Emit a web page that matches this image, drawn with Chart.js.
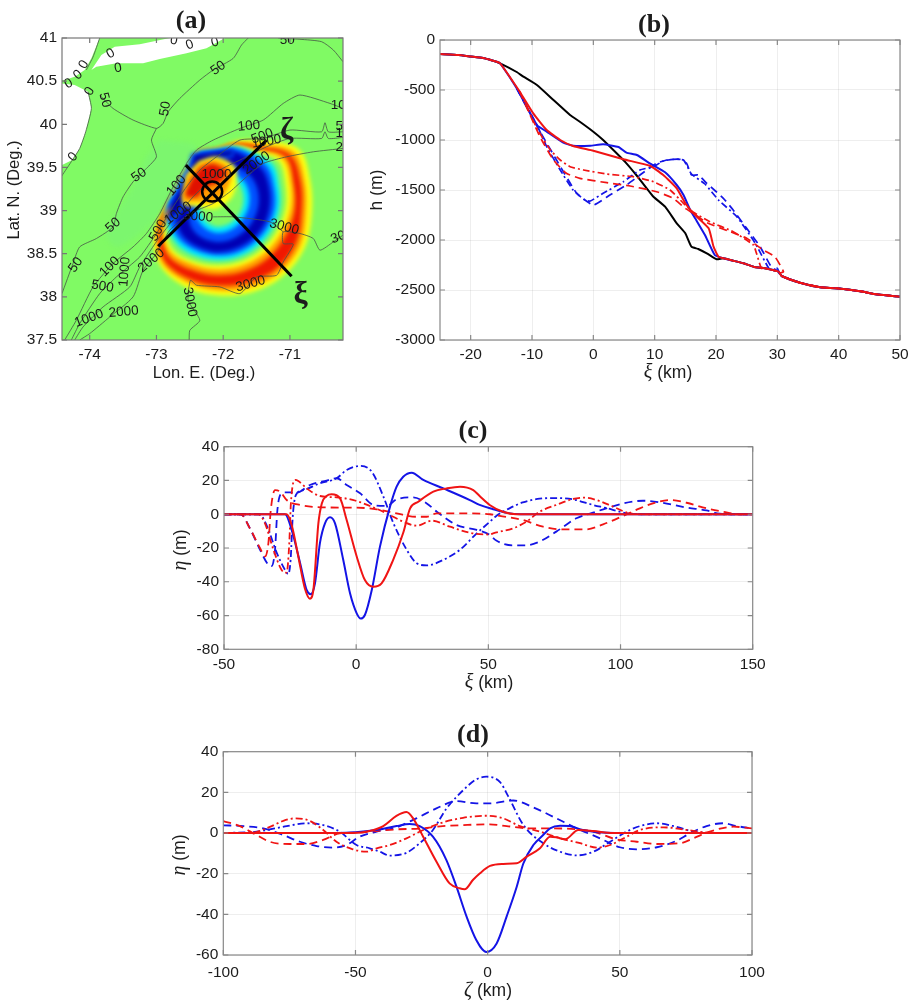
<!DOCTYPE html>
<html lang="en">
<head>
  <meta charset="UTF-8">
  <title>Tsunami wave elevation panels</title>
  <script src="https://cdn.jsdelivr.net/npm/chart.js"></script>
  <style>
    body { margin: 0; background: white; }
    .panel { position: absolute; }
    .panel canvas { filter: blur(0.45px); }
  </style>
</head>
<body>
  <div class="panel" style="left:0;top:0;width:370px;height:390px"><canvas id="chartA"></canvas></div>
  <div class="panel" style="left:370px;top:0;width:549px;height:390px"><canvas id="chartB"></canvas></div>
  <div class="panel" style="left:170px;top:410px;width:630px;height:290px"><canvas id="chartC"></canvas></div>
  <div class="panel" style="left:170px;top:720px;width:630px;height:281px"><canvas id="chartD"></canvas></div>

  <script>
    // ---- panel (a): map ticks
    const lonTicks = [-74, -73, -72, -71];
    const latTicks = [37.5, 38, 38.5, 39, 39.5, 40, 40.5, 41];

    // land, lon/lat
    const landNorth = [[-74.42,41],[-73.85,41],[-73.975,40.764],[-74.075,40.629],[-74.225,40.551],[-74.375,40.513],[-74.42,40.513]];
    const landJersey = [[-74.42,40.474],[-74.225,40.455],[-74.025,40.377],[-73.975,40.184],[-74.06,39.913],[-74.15,39.72],[-74.26,39.585],[-74.42,39.527]];
    const landIsland = [[-73.975,40.629],[-73.825,40.803],[-73.625,40.9],[-73.25,40.927],[-72.8,41],[-71.975,41],[-72.25,40.88],[-72.55,40.822],[-72.95,40.756],[-73.2,40.706],[-73.6,40.706],[-73.9,40.667]];

    // isobaths, lon/lat
    const contour0a = [[-73.85,41],[-73.95,40.78],[-74.05,40.63]];
    const contour0b = [[-74.025,40.377],[-73.975,40.184],[-74.06,39.913],[-74.15,39.72],[-74.26,39.585],[-74.42,39.4]];
    const contour50a = [[-73.85,40.339],[-73.65,40.184],[-73.35,40.049],[-73,39.952],[-72.9,40.01],[-72.825,40.145],[-72.65,40.3],[-72.35,40.513],[-72.15,40.629],[-71.85,40.764],[-71.725,40.919],[-71.625,41]];
    const contour50b = [[-73,39.952],[-73.075,39.817],[-73,39.623],[-73.15,39.488],[-73.35,39.333],[-73.5,39.159],[-73.6,38.966],[-73.65,38.811],[-73.9,38.676],[-74.15,38.579],[-74.25,38.386],[-74.415,38.038]];
    const contour50c = [[-71.175,41],[-70.85,40.985],[-70.525,40.957],[-70.35,40.861],[-70.205,40.725]];
    const contour100 = [[-70.205,40.184],[-70.4,40.242],[-70.85,40.339],[-71.1,40.242],[-71.4,40.049],[-71.75,39.952],[-72.15,39.817],[-72.4,39.701],[-72.55,39.546],[-72.75,39.275],[-72.95,38.966],[-73.15,38.734],[-73.35,38.579],[-73.65,38.386],[-73.95,38.115],[-74.2,37.729],[-74.375,37.5]];
    const contour500 = [[-70.205,39.913],[-70.425,39.913],[-70.475,40.018],[-70.525,39.913],[-71,39.933],[-71.4,39.836],[-71.75,39.817],[-72.1,39.623],[-72.35,39.469],[-72.55,39.275],[-72.75,39.043],[-73,38.734],[-73.25,38.463],[-73.6,38.231],[-73.85,38.038],[-74.15,37.69],[-74.275,37.5]];
    const contour1000 = [[-70.205,39.848],[-70.425,39.836],[-70.475,39.913],[-70.525,39.836],[-71,39.836],[-71.35,39.739],[-71.75,39.585],[-72.05,39.469],[-72.25,39.314],[-72.45,39.159],[-72.75,38.889],[-72.95,38.695],[-73.25,38.347],[-73.4,38.115],[-73.8,37.883],[-74.1,37.651],[-74.225,37.5]];
    const contour2000 = [[-70.205,39.72],[-70.65,39.681],[-71.05,39.623],[-71.4,39.546],[-71.65,39.391],[-71.9,39.217],[-72.15,39.082],[-72.5,38.966],[-72.8,38.773],[-73,38.502],[-73.2,38.309],[-73.35,38],[-73.7,37.767],[-74,37.574],[-74.15,37.5]];
    const contour3000a = [[-70.205,38.715],[-70.35,38.637],[-70.55,38.541],[-70.65,38.676],[-70.85,38.734],[-71.1,38.753],[-71.1,38.618],[-70.95,38.61],[-71.1,38.405],[-71.2,38.25],[-71.5,38.231],[-71.75,38.038],[-72.05,38.115],[-72.4,38.135],[-72.49,38.193],[-72.525,37.96],[-72.35,37.729],[-72.5,37.612],[-72.51,37.5]];
    const contour3000b = [[-71.1,38.753],[-71.3,38.869],[-71.85,38.927],[-72.15,38.927]];

    // contour labels: text, lon, lat, rotation (deg)
    const contourLabels = [
      ['0',-72.74,40.97,10],['0',-72.5,40.92,-20],['0',-72.125,40.95,-15],['0',-73.685,40.82,-30],['0',-73.575,40.65,-10],
      ['0',-74.085,40.69,-60],['0',-74.175,40.57,-40],['0',-74.315,40.47,-30],['0',-74,40.38,-60],['0',-74.25,39.62,-50],
      ['50',-71.04,40.97,0],['50',-72.075,40.65,-35],['50',-73.775,40.28,75],['50',-72.865,40.18,-80],['50',-73.26,39.41,-35],['50',-73.65,38.83,-40],['50',-74.21,38.37,-55],
      ['100',-71.615,39.98,-5],['100',-72.7,39.29,-50],['100',-73.7,38.35,-45],['10',-70.275,40.22,0],
      ['500',-71.415,39.86,-20],['500',-72.975,38.77,-60],['500',-73.81,38.12,10],
      ['1000',-71.35,39.8,-10],['1000',-72.675,38.97,-35],['1000',-73.475,38.29,-85],['1000',-74.01,37.75,-20],['1000',-72.1,39.42,0],
      ['2000',-71.5,39.55,-35],['2000',-73.075,38.42,-40],['2000',-73.49,37.825,-5],
      ['3000',-72.375,38.93,5],['3000',-71.085,38.81,15],['3000',-71.59,38.15,-15],['3000',-72.5,37.94,80],
      ['30',-70.275,38.69,-20],['5',-70.26,39.98,0],['1',-70.26,39.895,0],['2',-70.26,39.73,0]
    ];

    // section lines and source circle
    const lineXi = [[-72.56,39.527],[-70.975,38.239]];
    const lineZeta = [[-72.975,38.587],[-71.35,39.817]];
    const sourcePoint = [[-72.165,39.22]];
    const sectionMarks = [['\u03b6',-71.05,39.93],['\u03be',-70.84,38.02]];

    // wave field: ring outlines, bearings from the source in degrees, radius in 0.005 deg lon
    const ringCentre = [-72.1, 39.159];
    const ringBearings = [0,20,40,60,80,100,120,140,160,180,200,220,240,260,280,300,320,340];
    const ringYellowOut = [142,178,220,285,285,290,305,310,305,295,285,265,215,150,120,118,118,146];
    const ringOrangeOut = [142,172,205,268,268,272,290,295,288,280,270,255,207,150,120,118,118,146];
    const ringRedOut = [142,168,195,252,255,258,275,280,272,265,258,245,198,150,120,118,118,146];
    const ringRedIn = [142,165,188,240,235,238,238,240,238,235,232,228,190,150,120,118,118,146];
    const ringOrangeIn = [142,163,182,228,225,225,222,222,220,218,215,215,184,150,120,118,118,146];
    const ringYellowIn = [142,161,176,215,210,210,208,208,207,205,205,205,178,150,120,118,118,146];
    const ringCyanOut = [142,160,172,195,190,192,192,192,192,190,188,185,170,150,120,118,118,146];
    const ringBlueOut = [138,155,165,178,175,178,178,178,178,175,172,170,160,140,115,115,115,142];
    const ringDarkOut = [128,145,150,160,160,162,165,165,165,165,160,155,140,120,100,100,105,130];
    const ringDarkIn = [90,100,110,120,125,128,130,133,135,135,130,118,95,70,60,60,70,80];
    const ringBlueIn = [70,75,85,95,98,100,102,105,108,108,100,88,70,50,40,45,50,60];
    const ringCyanIn = [50,58,68,78,80,82,85,88,90,90,82,70,55,40,30,30,35,40];

    // steep slope patches north-west of the source, lon/lat
    const patchHaze = [[-72.95,39.817],[-72.4,39.74],[-72.55,39.43],[-72.85,39.04],[-73.25,38.734],[-73.6,38.58],[-73.75,38.734],[-73.35,39.275],[-73.15,39.623]];
    const patchBlue = [[-72.475,39.662],[-71.85,39.72],[-71.85,39.623],[-72.25,39.55],[-72.35,39.43],[-72.475,39.198],[-72.675,38.927],[-72.875,38.869],[-72.825,39.063],[-72.675,39.275],[-72.525,39.507]];
    const patchDark = [[-72.425,39.643],[-72.15,39.67],[-71.85,39.693],[-71.875,39.643],[-72.25,39.577],[-72.4,39.469],[-72.5,39.237],[-72.7,38.966],[-72.825,38.908],[-72.79,39.043],[-72.65,39.237],[-72.475,39.488]];
    const patchYellow = [[-72.35,39.577],[-72.1,39.623],[-71.81,39.488],[-71.85,39.179],[-72.1,39.024],[-72.4,39.043],[-72.6,39.082],[-72.56,39.411]];
    const patchOrange = [[-72.36,39.546],[-72.125,39.585],[-71.875,39.469],[-71.95,39.237],[-72.15,39.102],[-72.4,39.102],[-72.6,39.121],[-72.525,39.391]];
    const patchRed = [[-72.35,39.488],[-72.15,39.538],[-71.95,39.449],[-72.05,39.333],[-72.25,39.275],[-72.4,39.159],[-72.56,39.179],[-72.475,39.353]];
    const patchStreak = [[-72.775,39.082],[-72.85,38.889],[-72.96,38.715],[-73,38.715],[-72.91,38.927]];

    // ---- panel (b): depth profiles, xi (km) vs h (m)
    const bXTicks = [-20,-10,0,10,20,30,40,50];
    const bYTicks = [0,-500,-1000,-1500,-2000,-2500,-3000];
    const hHead = [[-25,-140],[-22,-150],[-20,-165],[-18,-180],[-16.5,-205],[-15.2,-233]];
    const hTail = [[21.2,-2183],[22.8,-2207],[24.5,-2233],[26.1,-2267],[28.3,-2287],[30.2,-2317]];
    const hDeep = [[30.7,-2360],[33.7,-2427],[37,-2473],[39.7,-2483],[44,-2517],[45.7,-2540],[50,-2567]];
    const hBlack = [[-12.5,-320],[-11.4,-367],[-9.2,-450],[-6.5,-600],[-3.8,-750],[-2.2,-817],[0,-917],[1.6,-1000],[3.8,-1133],[5.4,-1233],[7,-1350],[8.7,-1483],[9.8,-1567],[11.7,-1667],[13.6,-1833],[15,-1933],[16,-2067],[17.1,-2090],[18.5,-2133],[20.1,-2193]];
    const hBlueSolid = [[-12.5,-483],[-9.2,-850],[-7.6,-917],[-4.9,-1027],[-3.3,-1057],[-0.5,-1057],[1.6,-1043],[4.1,-1070],[5.4,-1127],[7.1,-1150],[9.2,-1233],[11.7,-1323],[13.6,-1450],[14.7,-1550],[15.8,-1700],[16.6,-1783],[18.2,-1950],[19.8,-2150]];
    const hRedSolid = [[-12,-517],[-9.8,-733],[-7.6,-900],[-5.4,-1000],[-3.3,-1060],[0,-1107],[4.9,-1193],[9.2,-1257],[11.4,-1350],[13.6,-1483],[15,-1633],[16.3,-1733],[18.8,-1883],[19.6,-2067],[20.4,-2167]];
    const hBlueDashDot = [[-12.5,-483],[-9.2,-850],[-7.6,-1067],[-5.4,-1300],[-3.3,-1500],[-1.4,-1600],[-0.5,-1610],[1.6,-1533],[4.9,-1417],[7.6,-1300],[9.8,-1267],[11.4,-1210],[13,-1193],[14.7,-1200],[16,-1340],[18.2,-1440],[20.4,-1600],[23.4,-1767],[26.4,-2033],[28.8,-2300],[30,-2283],[30.4,-2350]];
    const hBlueDash = [[-12.5,-483],[-9.2,-860],[-6,-1200],[-2.7,-1533],[0,-1650],[2.7,-1550],[5.4,-1450],[7.6,-1350],[10.3,-1233],[12,-1200],[14.1,-1193],[15.2,-1233],[16,-1350],[17.1,-1350],[18.5,-1433],[21.2,-1583],[22.8,-1700],[25,-1883],[27.2,-2067],[29,-2267],[30.2,-2317]];
    const hRedDashDot = [[-12,-517],[-9.2,-883],[-7,-1100],[-5.4,-1200],[-3.8,-1267],[-1.6,-1300],[2.2,-1340],[6.5,-1367],[9.8,-1417],[12.5,-1500],[14.7,-1633],[16.3,-1723],[19,-1817],[22.8,-1917],[26.1,-2050],[26.6,-2133],[27.4,-2283],[28.3,-2287],[30.2,-2317]];
    const hRedDash = [[-12,-517],[-8.7,-967],[-6.5,-1200],[-4.4,-1333],[-2.2,-1383],[2.2,-1427],[6,-1460],[10.3,-1517],[13,-1583],[15,-1683],[16.3,-1733],[18.5,-1827],[22.3,-1917],[25,-1983],[27.7,-2100],[29.6,-2167],[31,-2317],[30.4,-2330]];

    // ---- panel (c): eta (m) along xi (km)
    const cXTicks = [-50,0,50,100,150];
    const cYTicks = [40,20,0,-20,-40,-60,-80];
    const cBlueSolid = [[-50,0],[-26.9,0],[-24.4,-9.3],[-21.2,-29],[-18.7,-45],[-17.2,-47.4],[-15.6,-41],[-13.7,-17],[-11.8,-5.4],[-9.9,-1.8],[-8,-5.4],[-4.9,-27],[-2.3,-47],[0.2,-58.7],[1.7,-61.8],[3.3,-59.7],[5.9,-44.9],[9,-19.2],[12.8,4.5],[15.3,16.3],[17.8,22.2],[21,24.6],[25.4,20.3],[33,15.3],[43,8.4],[46.7,5.5],[51.8,3],[57,0.8],[62,0],[150,0]];
    const cRedSolid = [[-50,0],[-26.3,0],[-24.4,-6.4],[-21.9,-25],[-19.4,-44],[-17.5,-50],[-16.2,-45],[-14.3,-5.4],[-13,6.4],[-11.2,10.8],[-9.3,11.8],[-6.1,9.4],[-3.6,-3.4],[0.2,-25],[3.3,-39],[6.5,-43],[9.6,-41],[14,-27],[17.8,-11],[20.4,3.5],[23.5,7.4],[29.2,13.4],[34.2,15.3],[39.3,16.3],[44.3,14.3],[46.7,10.8],[50.5,5.5],[55.5,1.5],[60.6,0],[150,0]];
    const cBlueDashDot = [[-50,0],[-36.6,0],[-33.9,-6.4],[-30,-23],[-26.9,-33],[-25.7,-35.4],[-24.8,-27],[-24,-1.5],[-22.8,11.4],[-20,14.3],[-13.7,18.3],[-7.4,21.3],[-3.6,26.2],[1.5,28.6],[5.9,25.2],[10.3,10.4],[14.1,-5.4],[19.1,-21],[22.9,-29],[26.7,-30.3],[33,-27],[39.3,-21],[45.6,-11.3],[50.6,-4.4],[53,-1],[58,3.5],[63,7],[69.4,9.2],[75.7,9.6],[82,8.8],[89.6,5.5],[95,3.5],[101,1],[106,0],[150,0]];
    const cBlueDash = [[-50,0],[-43.7,0],[-40.2,-8.4],[-36.4,-21],[-33.2,-30],[-32,-30.7],[-30.7,-21],[-29.8,2.5],[-28.2,12.4],[-26.9,13],[-22.5,12.8],[-17.5,17.3],[-11.2,19.9],[-7.4,21.3],[-3.6,17.3],[1.5,12.4],[6.5,5.5],[11.5,4.9],[15.3,8.8],[21.6,10],[26.7,6.4],[30.5,1.5],[38,-6.4],[45.6,-9.3],[50.6,-12.3],[53,-15.6],[59.3,-18.4],[64.4,-18.4],[69.4,-16.2],[75.7,-10.3],[83.3,-2.4],[89.6,0.9],[94.6,3.5],[101,6.4],[108.5,8],[116,6.8],[125,3.9],[132.5,2.3],[137.5,0.3],[145,0],[150,0]];
    const cRedDashDot = [[-50,0],[-37,0],[-34.5,-5.4],[-31.3,-21],[-28.2,-33],[-26.3,-34.6],[-25.3,-17],[-24.7,6.4],[-23.1,20.3],[-21.9,19.7],[-18.7,15.3],[-13.7,10.8],[-7.4,10],[-1,8.4],[5.2,4.9],[11.5,0.5],[17.8,-4.4],[22.9,-6.8],[28.6,-3.8],[35.5,-7.4],[43,-11],[50.6,-12],[51.8,-11.3],[59.3,-8.4],[64.4,-4.4],[69.4,1.5],[75.7,5.5],[82,9],[86.4,9.8],[90.9,8.4],[97.2,4.5],[103.5,0.5],[108.5,0],[150,0]];
    const cRedDash = [[-50,0],[-43.7,0],[-40.2,-8.4],[-36.4,-20],[-34.5,-25],[-33.2,-17],[-32.3,2.5],[-30.7,14.3],[-28.8,13.4],[-26.3,8.4],[-21.2,5.5],[-11.2,4],[0.2,3.9],[7.8,2.9],[15.3,0.5],[22.9,-1.5],[26.7,-1.5],[30.5,0.5],[43,0.5],[50.6,0],[54.3,-1],[63,-3.4],[70.7,-7.4],[78.2,-9],[87,-9],[93.4,-6],[101,-1],[107.3,3.5],[112.3,6.4],[118.6,8.4],[125,6.8],[132.5,3.5],[138.8,1.5],[145,0],[150,0]];

    // ---- panel (d): eta (m) along zeta (km)
    const dXTicks = [-100,-50,0,50,100];
    const dYTicks = [40,20,0,-20,-40,-60];
    const dBlueSolid = [[-100,0],[-57,0],[-42,1.5],[-34.5,3.4],[-29.5,4.4],[-25.7,3.4],[-20.7,-1.8],[-15.6,-13.3],[-11.8,-26.4],[-8,-41],[-4.3,-52.6],[-0.5,-58.5],[3.4,-54.3],[7.2,-41],[11,-26.4],[13.5,-15],[17.3,-5.9],[21,-1],[23.6,2.3],[27.4,3.6],[31,3.4],[36,1.5],[43.8,0.2],[50,0],[100,0]];
    const dRedSolid = [[-100,0],[-51,0],[-44.6,1],[-39.5,3.4],[-34.5,8.4],[-30.7,10.3],[-28.2,7.2],[-24.4,-1.8],[-19.4,-14],[-14.4,-24.8],[-10.6,-27.2],[-8.7,-27.7],[-5.5,-23],[-2.9,-19.8],[0.9,-16.2],[5.9,-15.2],[11,-14.9],[14.8,-11.6],[19.8,-7.5],[23.6,-1.8],[26,-2.1],[29.3,-3.1],[34.3,1.5],[40,1],[47.5,0],[100,0]];
    const dBlueDashDot = [[-100,0],[-87.4,0.7],[-82.4,1.8],[-76,3.4],[-68.5,4.8],[-62.2,3.9],[-56,0.7],[-49.6,-5.9],[-44.6,-7.5],[-40.8,-9.2],[-37,-11.1],[-30.7,-9.7],[-25.7,-5],[-20.7,1.5],[-15.6,12],[-9.3,21],[-4.3,26.4],[-0.5,27.7],[4.7,25],[7.8,18],[13.5,4],[21,-5],[27.4,-9.2],[33.7,-11],[40,-9.2],[46.3,-4.3],[52.6,0.7],[57.6,3.4],[64,4.8],[71.5,3],[77.8,0.7],[85,0],[100,0]];
    const dBlueDash = [[-100,3.8],[-92.4,3.4],[-84.9,2.3],[-77.3,-1],[-71,-4.3],[-64.7,-6.4],[-58.4,-7.2],[-53.4,-5.9],[-48.4,-1.8],[-42,0.7],[-34.5,2.8],[-27,7.2],[-19.4,12.1],[-11.8,15.7],[-4.3,14.6],[0.8,14.6],[9.7,16],[17.3,12.6],[26,7.2],[33.7,2.3],[42.5,-2.6],[50,-7],[56.4,-8],[64,-7],[71.5,-3.8],[76.5,-0.2],[82.8,3.4],[89,4.8],[94.2,3.4],[100,2.3]];
    const dRedDashDot = [[-100,0],[-90,0],[-82.4,3],[-77.3,6],[-73,7.2],[-67.3,6],[-62.2,1.5],[-57.2,-4.3],[-51,-8],[-45.8,-9.2],[-42,-7.5],[-37,-5.9],[-30.7,-2.6],[-24.4,1.5],[-18,4.8],[-9.3,7.5],[-0.5,8.5],[5.9,7.2],[12.2,3.4],[19.8,0.7],[27.4,-2.6],[35,-5],[41.2,-7.2],[46.3,-5.9],[52.6,-1.8],[57.6,1.5],[66.5,2.8],[75.3,1.5],[83,0.2],[88,0],[100,0]];
    const dRedDash = [[-100,5.9],[-93.7,3.4],[-87.4,-1],[-82.4,-4.3],[-74.8,-5.4],[-68.5,-5.4],[-62.2,-3.4],[-56,-0.2],[-49.6,0.2],[-42,1],[-34.5,1.8],[-26,2.2],[-17,3.4],[-9.3,3.9],[0.8,4.3],[7.2,3.4],[16,2.3],[24.8,2.3],[33.7,1.8],[40,0.7],[48.8,-3.1],[56.4,-4.3],[64,-5.4],[72.8,-5],[77.8,-2.6],[84,0.7],[93,3.1],[100,2.3]];

    const BLUE = '#1414e6';
    const RED = '#f01414';
    const SANS = '"Liberation Sans", Arial, sans-serif';
    const SERIF = '"Liberation Serif", "Times New Roman", serif';
    const DASH = [8, 5];
    const DASHDOT = [7, 3, 2, 3];

    function curve(data, color, dash, width) {
      return { data: data, borderColor: color, borderDash: dash || [], borderWidth: width || 2, pointRadius: 0, tension: 0.15, fill: false };
    }

    // panels (c) and (d) run left to right, so no overshoot at the flat parts
    function wave(data, color, dash, width) {
      const d = curve(data, color, dash, width);
      d.cubicInterpolationMode = 'monotone';
      return d;
    }

    // ring radii to lon/lat, then the scales take over
    function ring(radii) {
      return radii.map((r, i) => {
        const a = ringBearings[i] * Math.PI / 180;
        return [ringCentre[0] + r * Math.sin(a) * 0.005, ringCentre[1] + r * Math.cos(a) * 0.003867];
      });
    }

    function area(data, color, tension) {
      return { data: data, backgroundColor: color, borderColor: 'rgba(0,0,0,0)', borderWidth: 0, pointRadius: 0, tension: tension, fill: 'shape' };
    }

    function contour(data) {
      return { data: data, borderColor: '#465446', borderWidth: 0.8, pointRadius: 0, tension: 0.2, fill: false };
    }

    // draws runs of differently styled text, centred on x,y
    function textRuns(ctx, runs, x, y, angle) {
      ctx.save();
      ctx.translate(x, y);
      ctx.rotate(angle || 0);
      ctx.textBaseline = 'middle';
      ctx.textAlign = 'left';
      ctx.fillStyle = '#1c1c1c';
      let total = 0;
      runs.forEach(r => { ctx.font = r[1]; total += ctx.measureText(r[0]).width; });
      let pos = -total / 2;
      runs.forEach(r => { ctx.font = r[1]; ctx.fillText(r[0], pos, 0); pos += ctx.measureText(r[0]).width; });
      ctx.restore();
    }

    // box, inward ticks and the panel's title and axis names
    function framePlugin(cfg) {
      return {
        id: 'frame',
        afterDraw(chart) {
          const { ctx, chartArea: a, scales } = chart;
          ctx.save();
          ctx.strokeStyle = cfg.box;
          ctx.lineWidth = 1.2;
          ctx.strokeRect(a.left, a.top, a.right - a.left, a.bottom - a.top);
          ctx.beginPath();
          scales.x.ticks.forEach(t => {
            const p = scales.x.getPixelForValue(t.value);
            ctx.moveTo(p, a.bottom); ctx.lineTo(p, a.bottom - 5);
            ctx.moveTo(p, a.top); ctx.lineTo(p, a.top + 5);
          });
          scales.y.ticks.forEach(t => {
            const p = scales.y.getPixelForValue(t.value);
            ctx.moveTo(a.left, p); ctx.lineTo(a.left + 5, p);
            ctx.moveTo(a.right, p); ctx.lineTo(a.right - 5, p);
          });
          ctx.stroke();
          ctx.restore();
          textRuns(ctx, [[cfg.title, 'bold 26px ' + SERIF]], cfg.titleX, cfg.titleY);
          textRuns(ctx, cfg.xName, cfg.xNameX, cfg.xNameY);
          textRuns(ctx, cfg.yName, cfg.yNameX, cfg.yNameY, -Math.PI / 2);
        }
      };
    }

    // the wave field is soft-edged in the figure
    const fieldBlur = {
      id: 'fieldBlur',
      beforeDraw(chart) {
        const { ctx, chartArea: a } = chart;
        ctx.save();
        ctx.fillStyle = '#80fa64';
        ctx.fillRect(a.left, a.top, a.right - a.left, a.bottom - a.top);
        ctx.restore();
      },
      beforeDatasetsDraw(chart) { chart.ctx.filter = 'blur(2.2px)'; },
      afterDatasetDraw(chart, args) {
        if (chart.data.datasets[args.index].lastField) chart.ctx.filter = 'none';
      },
      afterDatasetsDraw(chart) {
        const { ctx, chartArea: a, scales } = chart;
        ctx.save();
        ctx.beginPath();
        ctx.rect(a.left, a.top, a.right - a.left, a.bottom - a.top);
        ctx.clip();
        ctx.fillStyle = '#1a1a1a';
        ctx.font = '13.5px ' + SANS;
        ctx.textAlign = 'center';
        ctx.textBaseline = 'middle';
        contourLabels.forEach(l => {
          ctx.save();
          ctx.translate(scales.x.getPixelForValue(l[1]), scales.y.getPixelForValue(l[2]));
          ctx.rotate(l[3] * Math.PI / 180);
          ctx.fillText(l[0], 0, 0);
          ctx.restore();
        });
        ctx.restore();
        sectionMarks.forEach(m => {
          textRuns(ctx, [[m[0], 'bold 32px ' + SERIF]], scales.x.getPixelForValue(m[1]), scales.y.getPixelForValue(m[2]));
        });
      }
    };

    function panelOptions(box, xr, yr, xTicks, yTicks, grid) {
      const font = { family: SANS, size: 15.5 };
      const plain = v => String(v);
      return {
        responsive: false,
        animation: false,
        layout: { autoPadding: false, padding: { top: box.top, right: box.w - box.right, left: 0, bottom: 0 } },
        plugins: { legend: { display: false }, tooltip: { enabled: false } },
        scales: {
          x: {
            type: 'linear', min: xr[0], max: xr[1],
            afterBuildTicks: s => { s.ticks = xTicks.map(v => ({ value: v })); },
            afterFit: s => { s.height = box.h - box.bottom; },
            grid: { display: grid, color: 'rgba(0,0,0,0.065)', drawTicks: false },
            border: { display: false },
            ticks: { font: font, color: '#1c1c1c', padding: box.xPad, maxRotation: 0, autoSkip: false, callback: plain }
          },
          y: {
            type: 'linear', min: yr[0], max: yr[1],
            afterBuildTicks: s => { s.ticks = yTicks.map(v => ({ value: v })); },
            afterFit: s => { s.width = box.left; },
            grid: { display: grid, color: 'rgba(0,0,0,0.065)', drawTicks: false },
            border: { display: false },
            ticks: { font: font, color: '#1c1c1c', padding: 5, autoSkip: false, callback: plain }
          }
        }
      };
    }

    function makeChart(id, box, xr, yr, xTicks, yTicks, grid, datasets, plugins) {
      const canvas = document.getElementById(id);
      canvas.width = box.w;
      canvas.height = box.h;
      return new Chart(canvas, {
        type: 'line',
        data: { datasets: datasets },
        options: panelOptions(box, xr, yr, xTicks, yTicks, grid),
        plugins: plugins
      });
    }

    const kmFont = '17.5px ' + SANS;
    const nameFont = '16.5px ' + SANS;
    const kmName = sym => [[sym, 'italic 20px ' + SERIF], [' (km)', kmFont]];
    const etaName = [['\u03b7', 'italic 20px ' + SERIF], [' (m)', kmFont]];

    // painted bottom to top; Chart.js draws the first dataset last
    const fieldAreas = [
      area(patchHaze, '#7cf66e', 0.3),
      area(ring(ringYellowOut), '#ffff10', 0.35),
      area(ring(ringOrangeOut), '#ff9a00', 0.35),
      area(ring(ringRedOut), '#f01800', 0.35),
      area(ring(ringRedIn), '#ff9a00', 0.35),
      area(ring(ringOrangeIn), '#ffff10', 0.35),
      area(ring(ringYellowIn), '#80fa64', 0.35),
      area(ring(ringCyanOut), '#00e6ff', 0.35),
      area(ring(ringBlueOut), '#0050ff', 0.35),
      area(ring(ringDarkOut), '#0000b4', 0.35),
      area(ring(ringDarkIn), '#0050ff', 0.35),
      area(ring(ringBlueIn), '#00e6ff', 0.35),
      area(ring(ringCyanIn), '#80fa64', 0.35),
      area(patchBlue, '#0050ff', 0.1),
      area(patchDark, '#0000a0', 0.1),
      area(patchYellow, '#ffff10', 0.3),
      area(patchOrange, '#ff9a00', 0.3),
      area(patchRed, '#e01000', 0.3),
      area(patchStreak, '#f08000', 0.1)
    ];
    fieldAreas[fieldAreas.length - 1].lastField = true;

    const mapLines = [
      { data: sourcePoint, showLine: false, pointRadius: 10, pointBackgroundColor: 'rgba(0,0,0,0)', pointBorderColor: '#000', pointBorderWidth: 2.5 },
      { data: lineXi, borderColor: '#000', borderWidth: 3, pointRadius: 0 },
      { data: lineZeta, borderColor: '#000', borderWidth: 3, pointRadius: 0 },
      contour(contour0a), contour(contour0b), contour(contour50a), contour(contour50b), contour(contour50c),
      contour(contour100), contour(contour500), contour(contour1000), contour(contour2000), contour(contour3000a), contour(contour3000b)
    ];
    const land = [area(landNorth, '#ffffff', 0), area(landJersey, '#ffffff', 0), area(landIsland, '#ffffff', 0)];

    makeChart('chartA', { w: 370, h: 390, left: 62, right: 343, top: 38, bottom: 340, xPad: 5 },
      [-74.415, -70.205], [37.5, 41], lonTicks, latTicks, false,
      [...mapLines, ...land, ...fieldAreas.slice().reverse()],
      [fieldBlur, framePlugin({ box: '#777', title: '(a)', titleX: 191, titleY: 21,
        xName: [['Lon. E. (Deg.)', nameFont]], xNameX: 204, xNameY: 373,
        yName: [['Lat. N. (Deg.)', nameFont]], yNameX: 14, yNameY: 190 })]);

    makeChart('chartB', { w: 549, h: 390, left: 70, right: 530, top: 40, bottom: 340, xPad: 5 },
      [-25, 50], [-3000, 0], bXTicks, bYTicks, true,
      [
        curve([...hHead, ...hRedSolid, ...hTail, ...hDeep], RED),
        curve([...hRedDashDot, ...hDeep], RED, DASHDOT, 1.7),
        curve([...hRedDash, ...hDeep], RED, DASH, 1.7),
        curve([...hHead, ...hBlueSolid, ...hTail, ...hDeep], BLUE),
        curve([...hBlueDashDot, ...hDeep], BLUE, DASHDOT, 1.7),
        curve([...hBlueDash, ...hDeep], BLUE, DASH, 1.7),
        curve([...hHead, ...hBlack, ...hTail, ...hDeep], '#000')
      ],
      [framePlugin({ box: '#888', title: '(b)', titleX: 284, titleY: 25,
        xName: kmName('\u03be'), xNameX: 298, xNameY: 373,
        yName: [['h', kmFont], [' (m)', kmFont]], yNameX: 7, yNameY: 190 })]);

    makeChart('chartC', { w: 630, h: 290, left: 54, right: 582.7, top: 36.7, bottom: 239.3, xPad: 6 },
      [-50, 150], [-80, 40], cXTicks, cYTicks, true,
      [
        wave(cRedSolid, RED),
        wave(cBlueSolid, BLUE),
        wave(cRedDashDot, RED, DASHDOT, 1.8),
        wave(cRedDash, RED, DASH, 1.8),
        wave(cBlueDashDot, BLUE, DASHDOT, 1.8),
        wave(cBlueDash, BLUE, DASH, 1.8)
      ],
      [framePlugin({ box: '#888', title: '(c)', titleX: 303, titleY: 21,
        xName: kmName('\u03be'), xNameX: 319, xNameY: 273,
        yName: etaName, yNameX: 11, yNameY: 140 })]);

    makeChart('chartD', { w: 630, h: 281, left: 53.3, right: 582, top: 31.7, bottom: 235, xPad: 8 },
      [-100, 100], [-60, 40], dXTicks, dYTicks, true,
      [
        wave(dRedSolid, RED),
        wave(dBlueSolid, BLUE),
        wave(dRedDashDot, RED, DASHDOT, 1.8),
        wave(dRedDash, RED, DASH, 1.8),
        wave(dBlueDashDot, BLUE, DASHDOT, 1.8),
        wave(dBlueDash, BLUE, DASH, 1.8)
      ],
      [framePlugin({ box: '#888', title: '(d)', titleX: 303, titleY: 15,
        xName: kmName('\u03b6'), xNameX: 318, xNameY: 271,
        yName: etaName, yNameX: 10, yNameY: 135 })]);
  </script>
</body>
</html>
